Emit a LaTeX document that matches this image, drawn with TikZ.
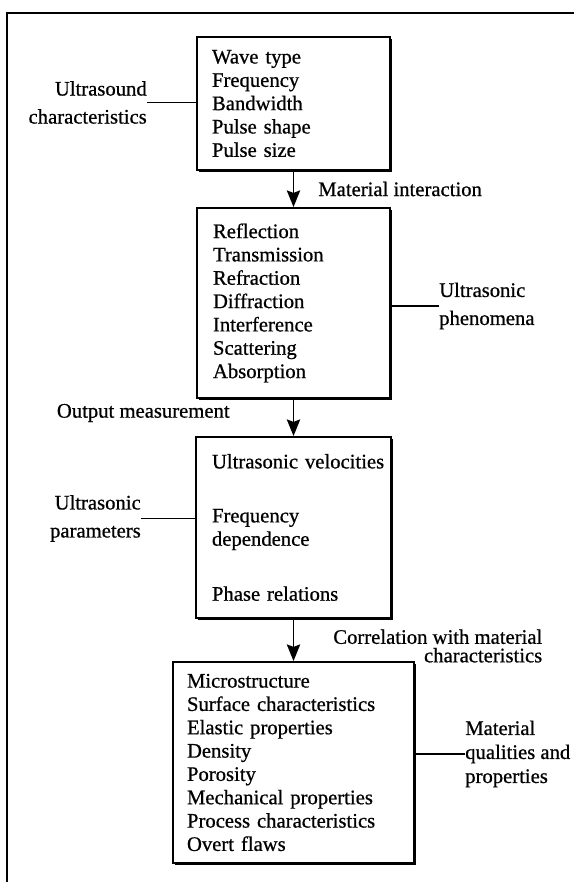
\documentclass[tikz,border=0pt]{standalone}
\usepackage{fontspec}
\setmainfont{Liberation Serif}[FakeBold=0.7]
\usetikzlibrary{positioning, arrows.meta, shadows}

\tikzset{
    box/.style={draw, rectangle, line width=1.1pt, fill=white, align=left,
        inner xsep=9pt, font=\fontsize{12.4}{14}\selectfont,
        drop shadow={shadow xshift=1.2pt, shadow yshift=-1.2pt, fill=black, opacity=1}},
    lbl/.style={inner sep=0pt, font=\fontsize{12.4}{16.8}\selectfont}
}

\begin{document}
\begin{tikzpicture}[node distance=2cm, auto, >={Stealth[length=10pt, width=8pt, inset=1.5pt]}]
    \useasboundingbox (0,0) rectangle (344.4pt,-529.2pt);
    \draw [line width=1.1pt] (4.2pt,-529.2pt) |- (344.4pt,-7.8pt);

    \node [box, text width=97.8pt, minimum height=79.8pt] (wave) at (176.1pt,-62.1pt)
        {Wave type\\Frequency\\Bandwidth\\Pulse shape\\Pulse size};
    \node [box, below of=wave, node distance=119.7pt, text width=96.6pt, inner xsep=9.6pt, minimum height=114pt] (refl)
        {Reflection\\Transmission\\Refraction\\Diffraction\\Interference\\Scattering\\Absorption};
    \node [box, below of=refl, node distance=134.7pt, text width=97.8pt, inner xsep=9.6pt, minimum height=108.6pt] (velo)
        {\mbox{Ultrasonic velocities}\\[18.4pt]Frequency\\dependence\\[19pt]Phase relations};
    \node [box, below of=velo, node distance=141pt, text width=127.8pt, inner xsep=8.4pt, minimum height=120.6pt] (micro)
        {Microstructure\\Surface characteristics\\Elastic properties\\Density\\Porosity\\Mechanical properties\\Process characteristics\\Overt flaws};

    % side labels
    \node [lbl, align=right, left=29.4pt of wave, yshift=0.6pt] (uschar) {Ultrasound\\characteristics};
    \node [lbl, align=left, right=28.8pt of refl, yshift=-1.8pt] (phen) {Ultrasonic\\phenomena};
    \node [lbl, align=right, left=32.4pt of velo, yshift=5.4pt] (param) {Ultrasonic\\parameters};
    \node [lbl, align=left, right=30pt of micro, yshift=5.1pt, font=\fontsize{12.4}{14.4}\selectfont] (matqual)
        {Material\\qualities and\\properties};

    \draw [line width=1pt] (uschar) -- (uschar -| wave.west);
    \draw [line width=1pt] (refl.east |- phen) -- (phen);
    \draw [line width=1pt] (param) -- (param -| velo.west);
    \draw [line width=1pt] (micro.east |- matqual) -- (matqual);

    % flow
    \draw [->, line width=1pt] (wave) -- node [right, lbl, xshift=14.4pt] (matint) {Material interaction} (refl);
    \draw [->, line width=1pt] (refl) -- node [left, lbl, xshift=-37.8pt, yshift=2.7pt] (outmeas) {Output measurement} (velo);
    \draw [->, line width=1pt] (velo) -- node [right, lbl, align=right, xshift=23.4pt, yshift=-3.6pt,
        font=\fontsize{12.4}{11.1}\selectfont] (corr) {Correlation with material\\characteristics} (micro);
\end{tikzpicture}
\end{document}
